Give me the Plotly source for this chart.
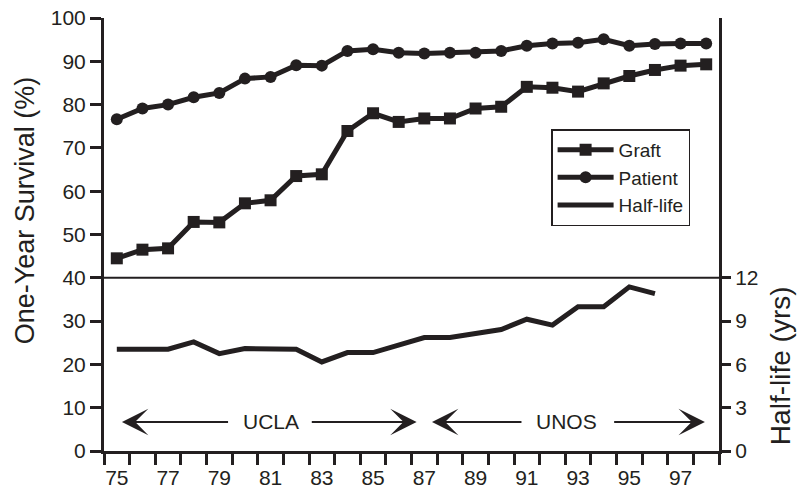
import plotly.graph_objects as go

# ---- data ----
years = list(range(75, 99))
graft = [44.5, 46.5, 46.8, 52.9, 52.8, 57.2, 57.9, 63.5, 63.9, 73.9, 78.0, 76.0,
         76.8, 76.8, 79.1, 79.5, 84.1, 83.9, 83.0, 84.9, 86.6, 88.0, 89.0, 89.3]
patient = [76.6, 79.1, 80.0, 81.7, 82.7, 86.0, 86.4, 89.1, 89.0, 92.4, 92.8, 92.0,
           91.8, 92.0, 92.0, 92.4, 93.6, 94.1, 94.3, 95.1, 93.6, 94.0, 94.1, 94.1]
hl_years = list(range(75, 97))
half_life = [7.05, 7.05, 7.05, 7.56, 6.75, 7.1, 7.05, 7.05, 6.17, 6.82, 6.82, 7.33,
             7.86, 7.86, 8.14, 8.42, 9.13, 8.72, 9.99, 9.99, 11.37, 10.9]
x_tick_vals = [75, 77, 79, 81, 83, 85, 87, 89, 91, 93, 95, 97]
x_tick_text = ["75", "77", "79", "81", "83", "85", "87", "89", "91", "93", "95", "97"]
year_bounds = [74.5 + i for i in range(25)]
y_tick_vals = list(range(0, 101, 10))
hl_tick_vals = [0, 3, 6, 9, 12]

INK = "#231f20"
FONT = "Liberation Sans, Arial, Helvetica, sans-serif"

fig = go.Figure()
fig.add_trace(go.Scatter(x=years, y=graft, name="Graft", mode="lines+markers",
                         line=dict(color=INK, width=5),
                         marker=dict(symbol="square", size=12, color=INK)))
fig.add_trace(go.Scatter(x=years, y=patient, name="Patient", mode="lines+markers",
                         line=dict(color=INK, width=5),
                         marker=dict(symbol="circle", size=12, color=INK)))
fig.add_trace(go.Scatter(x=hl_years, y=half_life, name="Half-life", mode="lines",
                         line=dict(color=INK, width=5), yaxis="y2"))

# horizontal separator at 40 %
fig.add_shape(type="line", xref="paper", yref="y", x0=0, x1=1, y0=40, y1=40,
              line=dict(color=INK, width=2))

# era annotations
ann_y = 6.7
for label, xc, a1, a2 in [("UCLA", 81.0, (79.4, 75.2), (82.55, 86.7)),
                          ("UNOS", 92.55, (90.85, 87.3), (94.35, 97.95))]:
    fig.add_annotation(x=xc, y=ann_y, text=label, showarrow=False,
                       font=dict(size=21, color=INK, family=FONT))
    for tail, head in [a1, a2]:
        fig.add_annotation(x=head, y=ann_y, ax=tail, ay=ann_y, axref="x", ayref="y",
                           xref="x", yref="y", text="", showarrow=True,
                           arrowhead=3, arrowsize=2.2, arrowwidth=2,
                           arrowcolor=INK, standoff=0, startstandoff=0)

# axis titles
fig.add_annotation(text="One-Year Survival (%)", xref="paper", yref="paper",
                   x=0, y=0.556, xshift=-79, textangle=-90, showarrow=False,
                   xanchor="center", yanchor="middle",
                   font=dict(size=27, color=INK, family=FONT))
fig.add_annotation(text="Half-life (yrs)", xref="paper", yref="paper",
                   x=1, y=0.196, xshift=61, textangle=-90, showarrow=False,
                   xanchor="center", yanchor="middle",
                   font=dict(size=28, color=INK, family=FONT))

fig.update_layout(
    width=797, height=490,
    margin=dict(l=104, r=78, t=18, b=39),
    plot_bgcolor="white", paper_bgcolor="white",
    font=dict(family=FONT, color=INK, size=21),
    showlegend=True,
    legend=dict(x=0.727, y=0.743, xanchor="left", yanchor="top",
                bordercolor=INK, borderwidth=1.5, bgcolor="white",
                font=dict(size=19, color=INK, family=FONT),
                tracegroupgap=0, itemwidth=56),
    xaxis=dict(range=[74.5, 98.5], tickmode="array", tickvals=x_tick_vals,
               ticktext=x_tick_text, ticks="outside", ticklen=6,
               tickcolor="rgba(0,0,0,0)", showline=True, linewidth=3,
               linecolor=INK, showgrid=False, zeroline=False, automargin=False,
               minor=dict(tickmode="array", tickvals=year_bounds, ticks="outside",
                          ticklen=11, tickwidth=3, tickcolor=INK, showgrid=False)),
    yaxis=dict(range=[0, 100], tickmode="array", tickvals=y_tick_vals,
               ticks="outside", ticklen=11, tickwidth=3, tickcolor=INK,
               showline=True, linewidth=3, linecolor=INK, mirror=True,
               showgrid=False, zeroline=False, automargin=False),
    yaxis2=dict(domain=[0, 0.4], anchor="x", side="right", range=[0, 12],
                tickmode="array", tickvals=hl_tick_vals, ticks="outside",
                ticklen=11, tickwidth=3, tickcolor=INK, showline=False,
                showgrid=False, zeroline=False, automargin=False),
)

fig.write_html("out.html",
               config={"displayModeBar": False},
               post_script="document.body.style.margin='0px';"
                           "document.body.style.overflow='hidden';")
